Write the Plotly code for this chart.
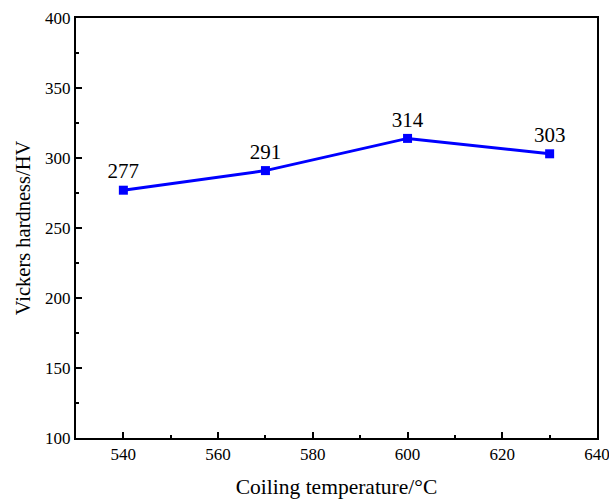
import plotly.graph_objects as go

temps = [540, 570, 600, 630]
hardness = [277, 291, 314, 303]
labels = ["277", "291", "314", "303"]
x_ticks = [540, 560, 580, 600, 620, 640]
y_ticks = [100, 150, 200, 250, 300, 350, 400]

font = "Liberation Serif"

fig = go.Figure()
fig.add_trace(go.Scatter(
    x=temps, y=hardness, mode="lines+markers+text",
    text=labels, textposition="top center",
    textfont=dict(family=font, size=21, color="black"),
    line=dict(color="#0000FF", width=3),
    marker=dict(symbol="square", size=9, color="#0000FF"),
    showlegend=False, cliponaxis=False, hoverinfo="skip",
))

tickfont = dict(family=font, size=17, color="black")

fig.update_xaxes(
    range=[530, 640], tickvals=x_ticks,
    showgrid=False, zeroline=False, showline=True, linecolor="black", linewidth=2,
    mirror=True, ticks="inside", ticklen=6, tickwidth=1.5, tickcolor="black",
    tickfont=tickfont, automargin=False, ticklabeloverflow="allow",
    minor=dict(ticks="inside", ticklen=3, tickwidth=1.5, tickcolor="black", dtick=10, tick0=530),
    title=dict(text="Coiling temperature/°C", font=dict(family=font, size=21.5, color="black"), standoff=20),
)
fig.update_yaxes(
    range=[100, 400], tickvals=y_ticks,
    showgrid=False, zeroline=False, showline=True, linecolor="black", linewidth=2,
    mirror=True, ticks="inside", ticklen=6, tickwidth=1.5, tickcolor="black",
    tickfont=tickfont, automargin=False, ticklabeloverflow="allow",
    minor=dict(ticks="inside", ticklen=3, tickwidth=1.5, tickcolor="black", dtick=25, tick0=100),
    title=dict(text="Vickers hardness/HV", font=dict(family=font, size=20.5, color="black"), standoff=9),
)

fig.update_layout(
    width=609, height=499,
    margin=dict(l=76, r=12, t=18, b=61),
    plot_bgcolor="white", paper_bgcolor="white",
    font=dict(family=font, size=17, color="black"),
)

fig.write_html(
    "out.html",
    config={"displayModeBar": False},
    post_script="document.body.style.margin='0';document.body.style.overflow='hidden';",
)
